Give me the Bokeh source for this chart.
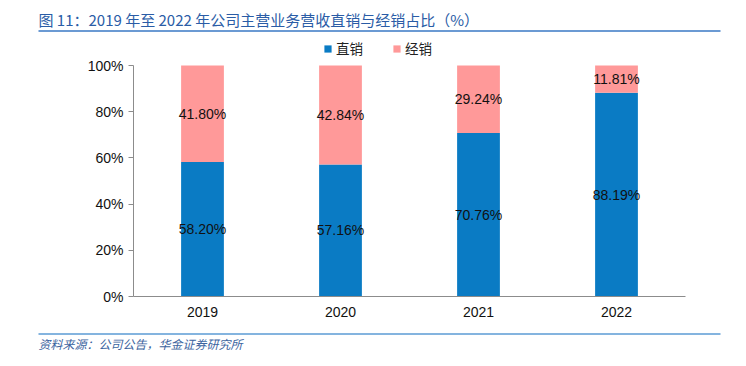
from bokeh.plotting import figure
from bokeh.layouts import column
from bokeh.models import ColumnDataSource, LabelSet, Legend, LegendItem, FixedTicker, CustomJSTickFormatter, Range1d
from bokeh.core.properties import value
from bokeh.embed import file_html
from bokeh.resources import INLINE

years = ["2019", "2020", "2021", "2022"]
direct = [58.20, 57.16, 70.76, 88.19]
dealer = [41.80, 42.84, 29.24, 11.81]
y_ticks = [0, 20, 40, 60, 80, 100]
series_names = ["直销", "经销"]
title_text = "图 11：2019 年至 2022 年公司主营业务营收直销与经销占比（%）"
source_text = "资料来源：公司公告，华金证券研究所"

BLUE = "#0A7BC4"
PINK = "#FF9999"
W = 730
TOP_H, MAIN_H, BOT_H = 32, 288, 30

def deco(h):
    f = figure(width=W, height=h, x_range=Range1d(0, W), y_range=Range1d(h, 0),
               output_backend="svg", toolbar_location=None,
               x_axis_location=None, y_axis_location=None,
               min_border=0, min_border_left=0, min_border_right=0,
               min_border_top=0, min_border_bottom=0)
    f.outline_line_color = None
    f.grid.grid_line_color = None
    f.frame_align = False
    return f

# --- top: title + rule
top = deco(TOP_H)
top.text(x=[38], y=[19], text=[title_text], text_font=value("Noto Sans CJK SC"),
         text_font_size="15px", text_font_style="normal", text_color="#2a5ca6",
         text_baseline="middle", text_align="left")
top.segment(x0=[38], y0=[30.5], x1=[720], y1=[30.5], line_color="#3a78c4", line_width=1.5)

# --- main chart
src = ColumnDataSource(dict(
    year=years, direct=direct, dealer=dealer,
    direct_mid=[d / 2 for d in direct],
    dealer_mid=[d + e / 2 for d, e in zip(direct, dealer)],
    direct_lbl=["%.2f%%" % d for d in direct],
    dealer_lbl=["%.2f%%" % e for e in dealer],
))

# frame spans image y 36..296; 100% sits at image y 65 -> headroom above 100 for the legend
y_end = 100 * (296 - 36) / (296 - 65)
p = figure(x_range=years, y_range=Range1d(0, y_end), width=W, height=MAIN_H,
           output_backend="svg", toolbar_location=None,
           min_border_left=133, min_border_right=45, min_border_top=4, min_border_bottom=24)
p.outline_line_color = None
p.grid.grid_line_color = None
p.frame_align = False

r = p.vbar_stack(["direct", "dealer"], x="year", width=0.31, color=[BLUE, PINK],
                 line_color=None, source=src)

for col, lcol in (("direct_mid", "direct_lbl"), ("dealer_mid", "dealer_lbl")):
    p.add_layout(LabelSet(x="year", y=col, text=lcol, source=src,
                          text_align="center", text_baseline="middle",
                          text_font=value("Liberation Sans"), text_font_size="14px",
                          text_color="#111111"))

p.yaxis.ticker = FixedTicker(ticks=y_ticks)
p.yaxis.bounds = (0, 100)
p.yaxis.formatter = CustomJSTickFormatter(code="return tick + '%';")
for ax in (p.xaxis, p.yaxis):
    ax.axis_line_color = "#8c8c8c"
    ax.major_label_text_font = "Liberation Sans"
    ax.major_label_text_font_size = "14px"
    ax.major_label_text_color = "#111111"
    ax.minor_tick_line_color = None
p.yaxis.major_tick_line_color = "#8c8c8c"
p.yaxis.major_tick_in = 0
p.yaxis.major_tick_out = 5
p.yaxis.major_label_standoff = 5
p.xaxis.major_tick_line_color = None
p.xaxis.major_label_standoff = 4

legend = Legend(items=[LegendItem(label=series_names[0], renderers=[r[0]]),
                       LegendItem(label=series_names[1], renderers=[r[1]])],
                orientation="horizontal", location=(190, 238),
                glyph_width=9, glyph_height=9, label_standoff=4, spacing=29,
                padding=0, margin=0, border_line_color=None, background_fill_alpha=0,
                label_text_font="Noto Sans CJK SC", label_text_font_size="13.5px",
                label_text_color="#222222")
p.add_layout(legend, "center")

# --- bottom: rule + source
bot = deco(BOT_H)
bot.segment(x0=[38], y0=[13.5], x1=[720], y1=[13.5], line_color="#5b9bd5", line_width=1.5)
bot.text(x=[38], y=[22.5], text=[source_text], text_font=value("Noto Sans CJK SC"),
         text_font_size="12px", text_font_style="italic", text_color="#3c64a0",
         text_baseline="middle", text_align="left")

layout = column(top, p, bot, spacing=0)
open("out.html", "w").write(file_html(layout, INLINE))
